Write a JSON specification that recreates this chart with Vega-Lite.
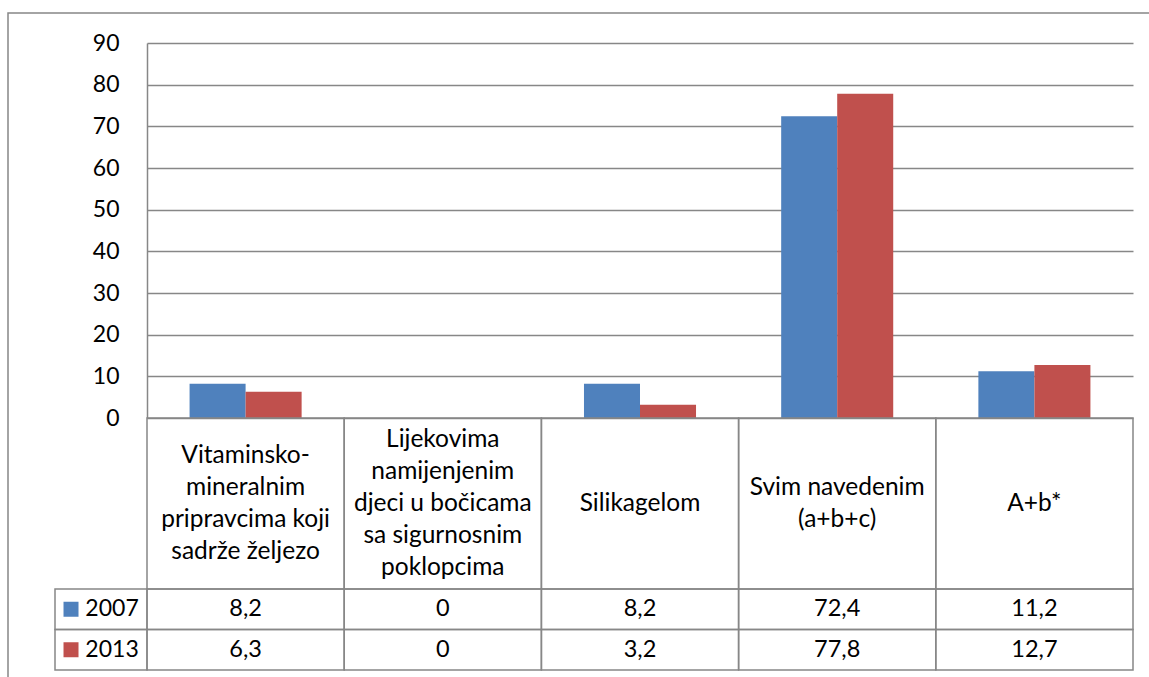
{
  "$schema": "https://vega.github.io/schema/vega-lite/v6.json",
  "width": 1145,
  "height": 668,
  "autosize": {"type": "none"},
  "padding": {"left": 8, "top": 13, "right": 0, "bottom": 0},
  "background": "#ffffff",
  "config": {
    "view": {"stroke": "#878787", "strokeWidth": 1.5},
    "font": "Lato",
    "locale": {"number": {"decimal": ",", "thousands": ".", "grouping": [3], "currency": ["", " €"]}}
  },
  "datasets": {
    "vrijednosti": [
      {"kategorija": "Vitaminsko-mineralnim", "godina": "2007", "vrijednost": 8.2},
      {"kategorija": "Lijekovima", "godina": "2007", "vrijednost": 0},
      {"kategorija": "Silikagelom", "godina": "2007", "vrijednost": 8.2},
      {"kategorija": "Svim navedenim", "godina": "2007", "vrijednost": 72.4},
      {"kategorija": "A+b*", "godina": "2007", "vrijednost": 11.2},
      {"kategorija": "Vitaminsko-mineralnim", "godina": "2013", "vrijednost": 6.3},
      {"kategorija": "Lijekovima", "godina": "2013", "vrijednost": 0},
      {"kategorija": "Silikagelom", "godina": "2013", "vrijednost": 3.2},
      {"kategorija": "Svim navedenim", "godina": "2013", "vrijednost": 77.8},
      {"kategorija": "A+b*", "godina": "2013", "vrijednost": 12.7}
    ],
    "kategorije": [
      {"kategorija": "Vitaminsko-mineralnim", "redova": 4, "naziv": "Vitaminsko-\nmineralnim\npripravcima koji\nsadrže željezo"},
      {"kategorija": "Lijekovima", "redova": 5, "naziv": "Lijekovima\nnamijenjenim\ndjeci u bočicama\nsa sigurnosnim\npoklopcima"},
      {"kategorija": "Silikagelom", "redova": 1, "naziv": "Silikagelom"},
      {"kategorija": "Svim navedenim", "redova": 2, "naziv": "Svim navedenim\n(a+b+c)"},
      {"kategorija": "A+b*", "redova": 1, "naziv": "A+b*"}
    ],
    "godine": [
      {"godina": "2007"},
      {"godina": "2013"}
    ]
  },
  "resolve": {"scale": {"x": "independent", "y": "independent"}},
  "layer": [
    {
      "resolve": {"scale": {"y": "independent"}},
      "layer": [
        {
          "data": {"name": "vrijednosti"},
          "mark": {"type": "bar"},
          "encoding": {
            "x": {"field": "kategorija", "type": "nominal", "sort": null,
              "scale": {"domain": ["Vitaminsko-mineralnim", "Lijekovima", "Silikagelom", "Svim navedenim", "A+b*"], "range": [139, 1125], "paddingInner": 0, "paddingOuter": 0},
              "axis": null},
            "xOffset": {"field": "godina", "type": "nominal",
              "scale": {"domain": ["2007", "2013"], "paddingInner": 0, "paddingOuter": 0.76}},
            "y": {"field": "vrijednost", "type": "quantitative",
              "scale": {"domain": [0, 90], "range": [405, 30], "nice": false},
              "axis": {"orient": "left", "offset": -139, "values": [0, 10, 20, 30, 40, 50, 60, 70, 80, 90],
                "grid": true, "gridColor": "#878787", "gridWidth": 1.5,
                "domain": true, "domainColor": "#878787", "domainWidth": 1.5,
                "ticks": false, "tickSize": 0, "labelPadding": 28,
                "labelFont": "Lato", "labelFontSize": 23, "labelColor": "#000000", "title": null}},
            "color": {"field": "godina", "type": "nominal",
              "scale": {"domain": ["2007", "2013"], "range": ["#4F81BD", "#C0504D"]}, "legend": null}
          }
        },
        {
          "data": {"name": "kategorije"},
          "encoding": {
            "x": {"field": "kategorija", "type": "nominal", "sort": null,
              "scale": {"domain": ["Vitaminsko-mineralnim", "Lijekovima", "Silikagelom", "Svim navedenim", "A+b*"], "range": [139, 1125], "paddingInner": 0, "paddingOuter": 0},
              "axis": null},
            "y": {"datum": "opis", "type": "nominal",
              "scale": {"domain": ["opis"], "range": [405, 576], "paddingInner": 0, "paddingOuter": 0},
              "axis": null},
            "text": {"field": "naziv", "type": "nominal"}
          },
          "layer": [
            {"mark": {"type": "rect", "filled": false, "stroke": "#878787", "strokeWidth": 1.5}},
            {"transform": [{"filter": "datum.redova == 1"}],
             "mark": {"type": "text", "font": "Lato", "fontSize": 24.5, "color": "#000000", "baseline": "middle", "align": "center", "lineBreak": "\n", "lineHeight": 32, "dy": 0}},
            {"transform": [{"filter": "datum.redova == 2"}],
             "mark": {"type": "text", "font": "Lato", "fontSize": 24.5, "color": "#000000", "baseline": "middle", "align": "center", "lineBreak": "\n", "lineHeight": 32, "dy": -16}},
            {"transform": [{"filter": "datum.redova == 4"}],
             "mark": {"type": "text", "font": "Lato", "fontSize": 24.5, "color": "#000000", "baseline": "middle", "align": "center", "lineBreak": "\n", "lineHeight": 32, "dy": -48}},
            {"transform": [{"filter": "datum.redova == 5"}],
             "mark": {"type": "text", "font": "Lato", "fontSize": 24.5, "color": "#000000", "baseline": "middle", "align": "center", "lineBreak": "\n", "lineHeight": 32, "dy": -64}}
          ]
        },
        {
          "data": {"name": "vrijednosti"},
          "encoding": {
            "x": {"field": "kategorija", "type": "nominal", "sort": null,
              "scale": {"domain": ["Vitaminsko-mineralnim", "Lijekovima", "Silikagelom", "Svim navedenim", "A+b*"], "range": [139, 1125], "paddingInner": 0, "paddingOuter": 0},
              "axis": null},
            "y": {"field": "godina", "type": "nominal",
              "scale": {"domain": ["2007", "2013"], "range": [576, 657], "paddingInner": 0, "paddingOuter": 0},
              "axis": null}
          },
          "layer": [
            {"mark": {"type": "rect", "filled": false, "stroke": "#878787", "strokeWidth": 1.5}},
            {"mark": {"type": "text", "font": "Lato", "fontSize": 23.5, "color": "#000000", "baseline": "middle", "align": "center"},
             "encoding": {"text": {"field": "vrijednost", "type": "quantitative", "format": ".1~f"}}}
          ]
        }
      ]
    },
    {
      "data": {"name": "godine"},
      "encoding": {
        "y": {"field": "godina", "type": "nominal",
          "scale": {"domain": ["2007", "2013"], "range": [576, 657], "paddingInner": 0, "paddingOuter": 0},
          "axis": null}
      },
      "layer": [
        {"mark": {"type": "rect", "filled": false, "stroke": "#878787", "strokeWidth": 1.5},
         "encoding": {"x": {"datum": "legenda", "type": "nominal",
           "scale": {"domain": ["legenda"], "range": [47, 139], "paddingInner": 0, "paddingOuter": 0}, "axis": null}}},
        {"mark": {"type": "point", "shape": "square", "filled": true, "size": 225, "opacity": 1, "strokeWidth": 0},
         "encoding": {
           "x": {"datum": "legenda", "type": "nominal", "bandPosition": 0.174,
             "scale": {"domain": ["legenda"], "range": [47, 139], "paddingInner": 0, "paddingOuter": 0}, "axis": null},
           "color": {"field": "godina", "type": "nominal",
             "scale": {"domain": ["2007", "2013"], "range": ["#4F81BD", "#C0504D"]}, "legend": null}}},
        {"mark": {"type": "text", "font": "Lato", "fontSize": 23, "color": "#000000", "baseline": "middle", "align": "left"},
         "encoding": {
           "x": {"datum": "legenda", "type": "nominal", "bandPosition": 0.33,
             "scale": {"domain": ["legenda"], "range": [47, 139], "paddingInner": 0, "paddingOuter": 0}, "axis": null},
           "text": {"field": "godina", "type": "nominal"}}}
      ]
    }
  ]
}
